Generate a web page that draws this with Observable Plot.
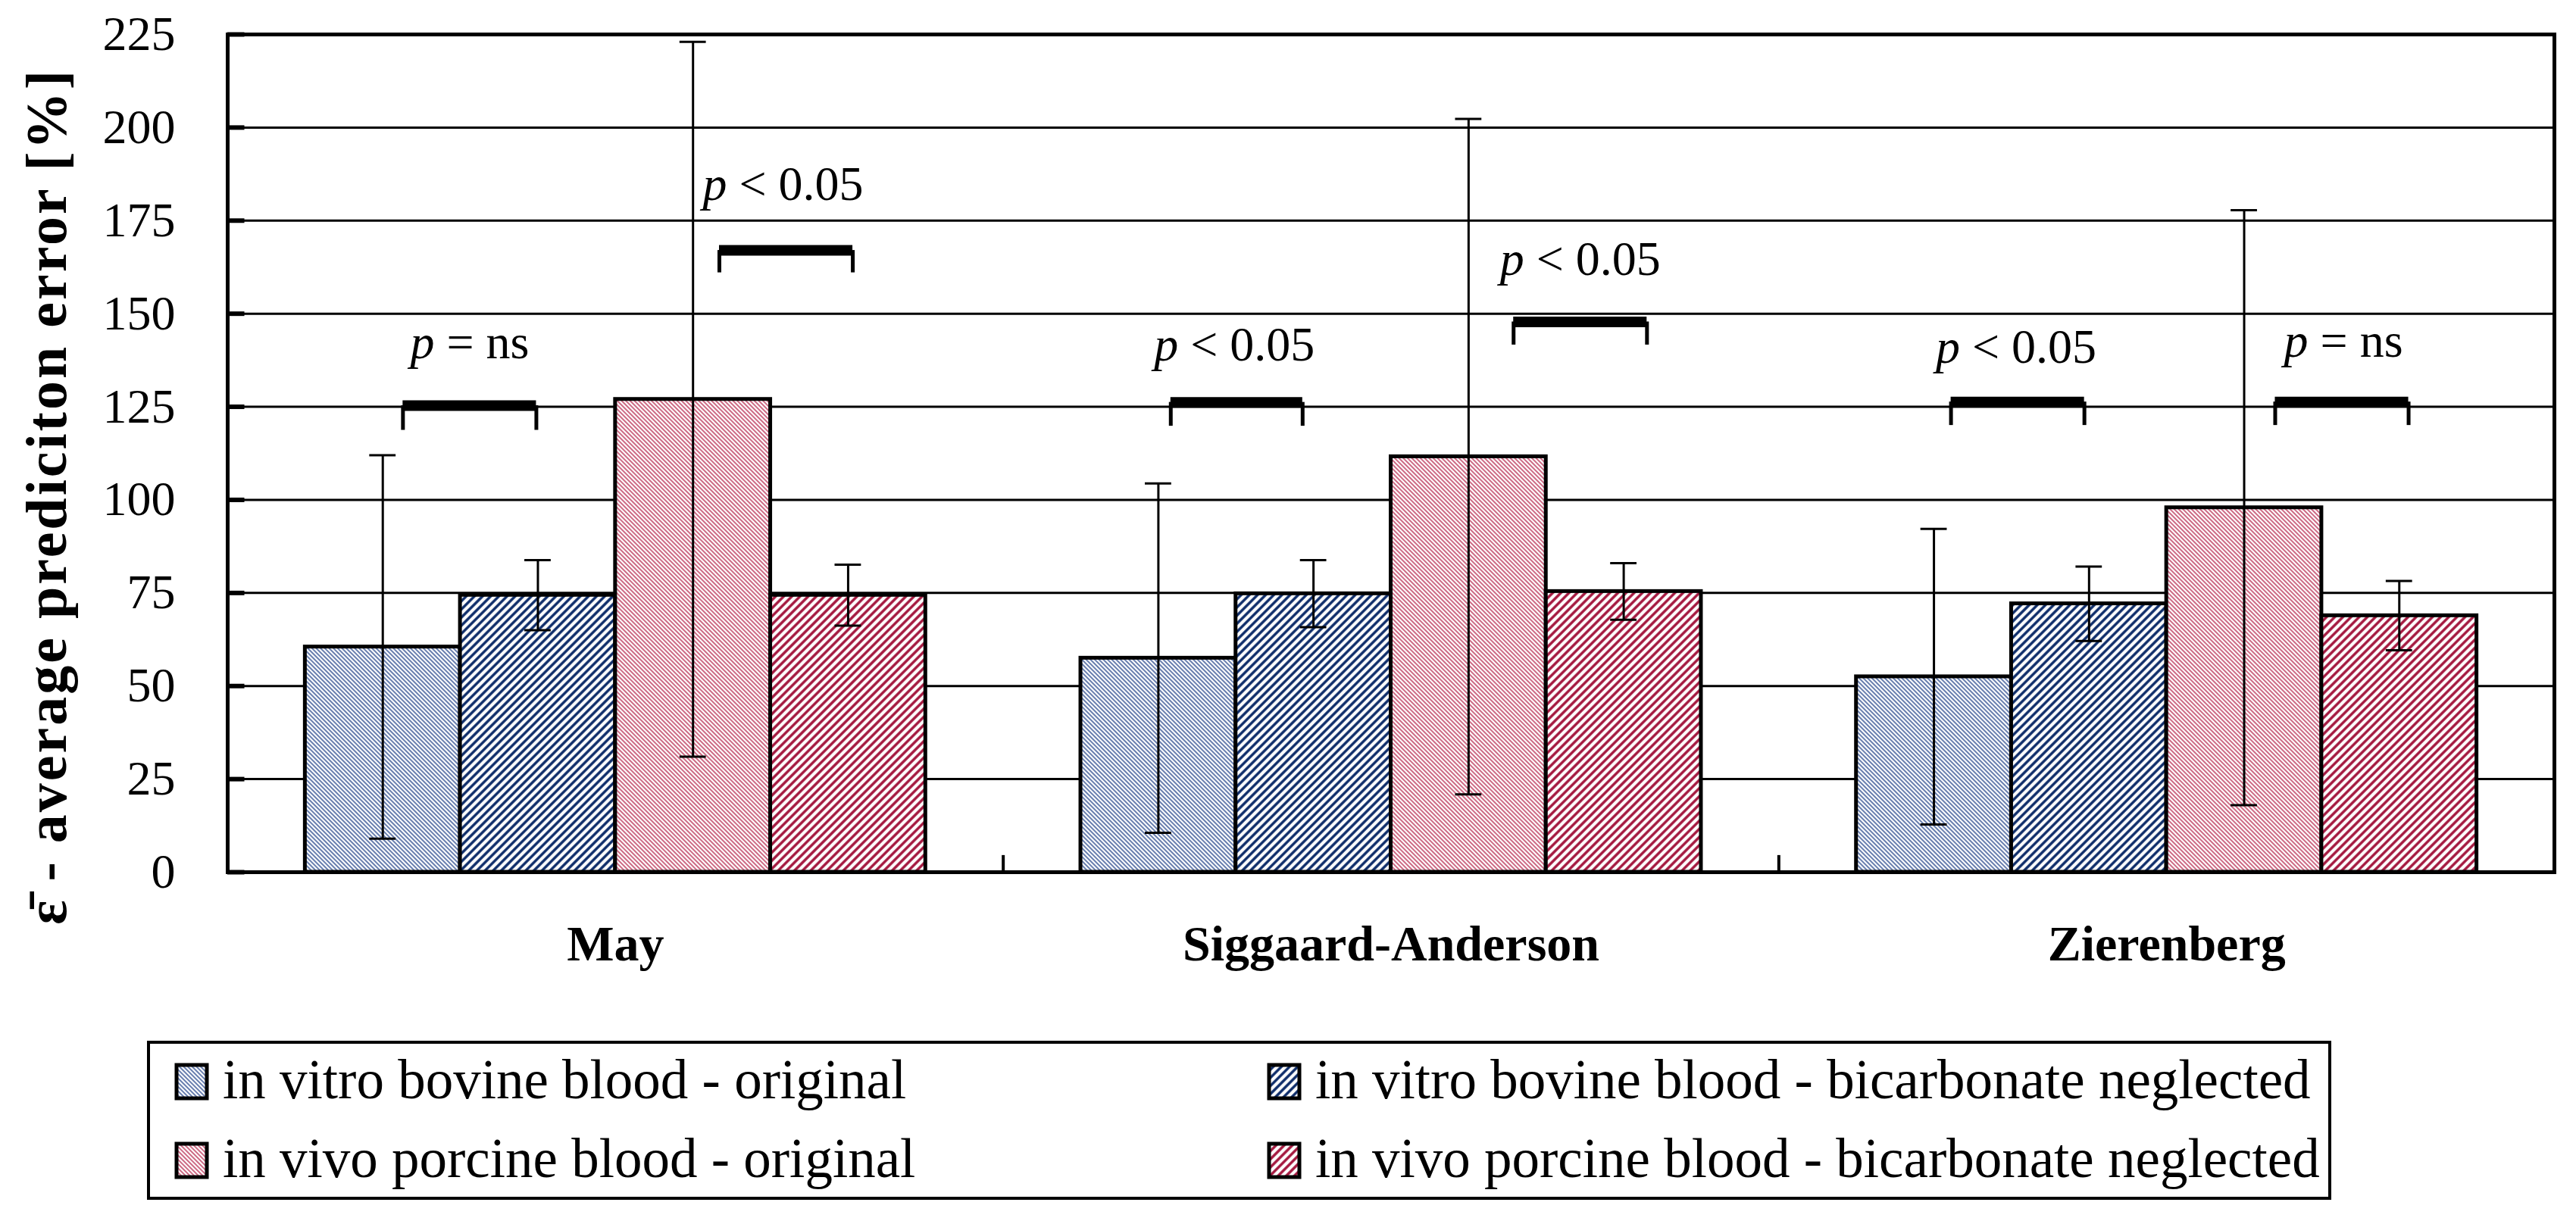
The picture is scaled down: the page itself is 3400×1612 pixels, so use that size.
<!DOCTYPE html>
<html>
<head>
<meta charset="utf-8">
<script src="https://cdn.jsdelivr.net/npm/d3@7"></script>
<script src="https://cdn.jsdelivr.net/npm/@observablehq/plot@0.6"></script>
<style>
  html, body { margin: 0; padding: 0; background: #fff; }
  #wrap { position: relative; width: 3400px; height: 1612px; overflow: hidden; font-family: "Liberation Serif", serif; background: #fff; }
  #legend { position: absolute; left: 194px; top: 1374px; }
</style>
</head>
<body>
<svg width="0" height="0" style="position:absolute">
  <defs>
    <pattern id="hatch0" patternUnits="userSpaceOnUse" width="4" height="4" patternTransform="rotate(-45)">
      <rect width="4" height="4" fill="#ffffff"/>
      <line x1="2" y1="0" x2="2" y2="4" stroke="#4d67a0" stroke-width="1.7"/>
    </pattern>
    <pattern id="hatch1" patternUnits="userSpaceOnUse" width="7.6" height="7.6" patternTransform="rotate(45)">
      <rect width="7.6" height="7.6" fill="#ffffff"/>
      <line x1="3.8" y1="0" x2="3.8" y2="7.6" stroke="#0b2a68" stroke-width="3.4"/>
    </pattern>
    <pattern id="hatch2" patternUnits="userSpaceOnUse" width="4" height="4" patternTransform="rotate(-45)">
      <rect width="4" height="4" fill="#ffffff"/>
      <line x1="2" y1="0" x2="2" y2="4" stroke="#c4506f" stroke-width="1.7"/>
    </pattern>
    <pattern id="hatch3" patternUnits="userSpaceOnUse" width="7.6" height="7.6" patternTransform="rotate(45)">
      <rect width="7.6" height="7.6" fill="#ffffff"/>
      <line x1="3.8" y1="0" x2="3.8" y2="7.6" stroke="#a3153d" stroke-width="3.4"/>
    </pattern>
  </defs>
</svg>
<div id="wrap">
  <div id="chart"></div>
  <div id="legend"></div>
</div>
<script>
// ---------- data ----------
const categories = ["May", "Siggaard-Anderson", "Zierenberg"];
const series = [
  "in vitro bovine blood - original",
  "in vitro bovine blood - bicarbonate neglected",
  "in vivo porcine blood - original",
  "in vivo porcine blood - bicarbonate neglected"
];
// mean values per series (May, Siggaard-Anderson, Zierenberg)
const valVitroOriginal = [60.5, 57.5, 52.5];
const valVitroNeglected = [74.4, 74.8, 72.1];
const valVivoOriginal = [127.0, 111.6, 97.9];
const valVivoNeglected = [74.4, 75.4, 68.9];
// error bar half widths
const errVitroOriginal = [51.5, 46.9, 39.7];
const errVitroNeglected = [9.4, 9.0, 10.0];
const errVivoOriginal = [96.0, 90.7, 79.9];
const errVivoNeglected = [8.2, 7.6, 9.3];

const yTicks = [0, 25, 50, 75, 100, 125, 150, 175, 200, 225];
const yTitle = "\u03B5\u0304 - average prediciton error [%]";

// significance annotations
const sigLabels = ["p = ns", "p < 0.05", "p < 0.05", "p < 0.05", "p < 0.05", "p = ns"];
const sigX1 = [1.13, 3.17, 6.08, 8.29, 11.11, 13.20];
const sigX2 = [1.99, 4.03, 6.93, 9.15, 11.97, 14.06];
const sigBarY = [125.3, 167.0, 126.2, 147.8, 126.3, 126.3];
const sigLegY = [118.7, 161.0, 119.8, 141.6, 120.0, 120.0];
const sigTextX = [1.56, 3.58, 6.49, 8.72, 11.53, 13.64];
const sigTextY = [138.0, 180.5, 137.5, 160.5, 136.8, 138.4];

// ---------- build tables ----------
const values = [valVitroOriginal, valVitroNeglected, valVivoOriginal, valVivoNeglected];
const errors = [errVitroOriginal, errVitroNeglected, errVivoOriginal, errVivoNeglected];
const fills = ["url(#hatch0)", "url(#hatch1)", "url(#hatch2)", "url(#hatch3)"];
const slots = series.length + 1; // 4 bars + 1 bar-width gap per group

const rows = [];
categories.forEach((c, ci) => series.forEach((s, si) => {
  const v = values[si][ci], e = errors[si][ci];
  rows.push({category: c, series: s, ci, si, value: v, lo: v - e, hi: v + e,
             left: ci * slots + 0.5 + si, center: ci * slots + 1 + si});
}));
const brackets = sigLabels.map((label, i) => ({
  label, x1: sigX1[i], x2: sigX2[i], y: sigBarY[i], leg: sigLegY[i], tx: sigTextX[i], ty: sigTextY[i]
}));
const centers = categories.map((c, i) => i * slots + slots / 2);
const bounds = d3.range(1, categories.length).map(i => i * slots);
const capHalf = 0.085;

const chart = Plot.plot({
  width: 3400,
  height: 1340,
  marginTop: 45,
  marginRight: 29,
  marginBottom: 189,
  marginLeft: 300,
  style: {fontFamily: '"Liberation Serif", serif', background: "white", color: "black", overflow: "visible"},
  x: {domain: [0, categories.length * slots]},
  y: {domain: [0, 225]},
  color: {type: "identity"},
  marks: [
    Plot.ruleY(yTicks.filter(t => t > 0 && t < 225), {stroke: "black", strokeWidth: 3}),
    Plot.ruleY(yTicks, {x1: 0, x2: 0.11, stroke: "black", strokeWidth: 6}),
    Plot.rect(rows, {x1: "left", x2: d => d.left + 1, y1: 0, y2: "value",
                     fill: d => fills[d.si], stroke: "black", strokeWidth: 5}),
    Plot.ruleX(rows, {x: "center", y1: "lo", y2: "hi", stroke: "black", strokeWidth: 3}),
    Plot.ruleY(rows, {y: "hi", x1: d => d.center - capHalf, x2: d => d.center + capHalf, stroke: "black", strokeWidth: 3}),
    Plot.ruleY(rows, {y: "lo", x1: d => d.center - capHalf, x2: d => d.center + capHalf, stroke: "black", strokeWidth: 3}),
    Plot.ruleX(bounds, {y1: 0, y2: 4.5, stroke: "black", strokeWidth: 4}),
    Plot.frame({stroke: "black", strokeWidth: 5}),
    // brackets
    Plot.ruleX(brackets, {x: "x1", y1: "leg", y2: "y", stroke: "black", strokeWidth: 5}),
    Plot.ruleX(brackets, {x: "x2", y1: "leg", y2: "y", stroke: "black", strokeWidth: 5}),
    Plot.ruleY(brackets, {y: "y", x1: "x1", x2: "x2", stroke: "black", strokeWidth: 14}),
    Plot.text(brackets, {x: "tx", y: "ty", text: "label", fontSize: 64, lineAnchor: "bottom"}),
    // axes
    Plot.axisY(yTicks, {tickSize: 0, tickPadding: 69, fontSize: 64, label: null}),
    Plot.axisX(centers, {tickSize: 0, tickPadding: 70, fontSize: 66, fontWeight: "bold",
                         tickFormat: d => categories[Math.round((d - slots / 2) / slots)], label: null}),
    Plot.text([yTitle], {frameAnchor: "left", textAnchor: "middle", lineAnchor: "middle",
                         rotate: -90, dx: -238, dy: 57, text: d => d,
                         fontSize: 76, fontWeight: "bold"})
  ]
});

// italic "p" and title spacing
chart.querySelectorAll("text").forEach(t => {
  const s = t.textContent;
  if (/^p [<=] /.test(s)) {
    t.textContent = "";
    const p = document.createElementNS("http://www.w3.org/2000/svg", "tspan");
    p.setAttribute("font-style", "italic");
    p.textContent = "p";
    const rest = document.createElementNS("http://www.w3.org/2000/svg", "tspan");
    rest.textContent = s.slice(1);
    t.appendChild(p); t.appendChild(rest);
  } else if (s === yTitle) {
    t.style.letterSpacing = "3px";
  }
});
chart.querySelectorAll('[aria-label="x-axis tick label"] text').forEach(t => t.setAttribute("font-weight", "bold"));
document.getElementById("chart").appendChild(chart);

// ---------- legend ----------
const lg = d3.create("svg").attr("width", 2886).attr("height", 214)
  .style("font-family", '"Liberation Serif", serif');
lg.append("rect").attr("x", 2).attr("y", 2).attr("width", 2879).attr("height", 206)
  .attr("fill", "white").attr("stroke", "black").attr("stroke-width", 4);
const colX = [39, 1481];
const rowY = [76, 180];
series.forEach((s, i) => {
  const col = i % 2, row = Math.floor(i / 2);
  const g = lg.append("g");
  g.append("rect").attr("x", colX[col]).attr("y", rowY[row] - 44).attr("width", 40).attr("height", 44)
    .attr("fill", fills[i]).attr("stroke", "black").attr("stroke-width", 5);
  g.append("text").attr("x", colX[col] + 61).attr("y", rowY[row])
    .attr("font-size", 73).attr("fill", "black").text(s);
});
document.getElementById("legend").appendChild(lg.node());
</script>
</body>
</html>
